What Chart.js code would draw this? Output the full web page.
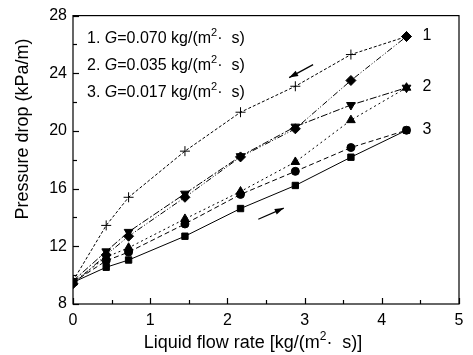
<!DOCTYPE html>
<html>
<head>
<meta charset="utf-8">
<script src="https://cdn.jsdelivr.net/npm/chart.js@4.4.1/dist/chart.umd.min.js"></script>
<style>
  html, body { margin: 0; padding: 0; background: #fff; }
  #wrap { width: 473px; height: 355px; }
</style>
</head>
<body>
<div id="wrap"><canvas id="chart" width="473" height="355"></canvas></div>
<script>
// liquid flow rate, kg/(m2 s)
const flowRate = [0, 0.43, 0.72, 1.45, 2.17, 2.88, 3.6, 4.32];

// pressure drop, kPa/m
const g070Down = [9.6, 13.45, 15.4, 18.6, 21.3, 23.1, 25.3, 26.55];
const g070Up = [9.4, 11.4, 12.7, 15.4, 18.2, 20.15, 23.5, 26.55];
const g035Down = [9.6, 11.65, 13.0, 15.65, 18.25, 20.3, 21.8, 23.0];
const g035Up = [9.5, 11.25, 11.9, 13.9, 15.8, 17.85, 20.75, 23.0];
const g017Down = [9.5, 11.0, 11.6, 13.55, 15.6, 17.2, 18.85, 20.05];
const g017Up = [9.5, 10.55, 11.05, 12.7, 14.62, 16.22, 18.18, 20.05];

const legendLines = [
  ["1. ", "G", "=0.070 kg/(m", "2", "·  s)"],
  ["2. ", "G", "=0.035 kg/(m", "2", "·  s)"],
  ["3. ", "G", "=0.017 kg/(m", "2", "·  s)"],
];
const curveLabels = ["1", "2", "3"];
const curveEnds = [26.55, 23.0, 20.05];

const FONT = "'Liberation Sans', Arial, sans-serif";

function pts(ys) {
  return flowRate.map((x, i) => ({ x: x, y: ys[i] }));
}

function series(ys, style, dash, extra) {
  return Object.assign({
    data: pts(ys),
    borderColor: "#000",
    backgroundColor: "#000",
    borderWidth: 1,
    borderDash: dash,
    pointStyle: style,
    pointRadius: 4.5,
    pointBorderWidth: 1,
    pointBorderColor: "#000",
    pointBackgroundColor: "#000",
    tension: 0,
  }, extra || {});
}

// frame, inward ticks, titles, arrows, legend text
const decorations = {
  id: "decorations",
  afterDraw(chart) {
    const ctx = chart.ctx;
    const xs = chart.scales.x;
    const ys = chart.scales.y;
    const a = chart.chartArea;
    ctx.save();
    ctx.strokeStyle = "#000";
    ctx.lineWidth = 1.2;
    ctx.strokeRect(a.left, a.top, a.right - a.left, a.bottom - a.top);

    for (let v = 0; v <= 5.001; v += 0.5) {
      const px = Math.round(xs.getPixelForValue(v)) + 0.5;
      const len = Math.abs(v - Math.round(v)) < 0.01 ? 6 : 4;
      ctx.beginPath();
      ctx.moveTo(px, a.bottom);
      ctx.lineTo(px, a.bottom - len);
      ctx.stroke();
    }
    for (let v = 8; v <= 28.001; v += 2) {
      const py = Math.round(ys.getPixelForValue(v)) + 0.5;
      const len = v % 4 === 0 ? 6 : 4;
      ctx.beginPath();
      ctx.moveTo(a.left, py);
      ctx.lineTo(a.left + len, py);
      ctx.stroke();
    }

    ctx.fillStyle = "#000";
    // x title
    ctx.textBaseline = "alphabetic";
    drawParts(ctx, ["Liquid flow rate [kg/(m", "2", "·  s)]"], 253, 348, [false, true, false]);

    // y title
    ctx.save();
    ctx.translate(28, 129);
    ctx.rotate(-Math.PI / 2);
    ctx.textAlign = "center";
    ctx.font = "18px " + FONT;
    ctx.fillText("Pressure drop (kPa/m)", 0, 0);
    ctx.restore();

    // legend text
    legendLines.forEach((parts, i) => {
      drawLegend(ctx, parts, 87, 43 + i * 27);
    });

    // curve numbers
    ctx.font = "16px " + FONT;
    ctx.textAlign = "left";
    ctx.textBaseline = "middle";
    curveLabels.forEach((t, i) => {
      ctx.fillText(t, xs.getPixelForValue(4.32) + 16, ys.getPixelForValue(curveEnds[i]) - 1);
    });

    // arrows
    arrow(ctx, xs.getPixelForValue(3.11), ys.getPixelForValue(24.6), xs.getPixelForValue(2.8), ys.getPixelForValue(23.7));
    arrow(ctx, xs.getPixelForValue(2.4), ys.getPixelForValue(13.88), xs.getPixelForValue(2.73), ys.getPixelForValue(14.65));
    ctx.restore();
  },
};

function drawParts(ctx, parts, x, y, sup) {
  let total = 0;
  const widths = parts.map((p, i) => {
    ctx.font = (sup[i] ? "12px " : "18px ") + FONT;
    const w = ctx.measureText(p).width;
    total += w;
    return w;
  });
  let cx = x - total / 2;
  ctx.textAlign = "left";
  parts.forEach((p, i) => {
    ctx.font = (sup[i] ? "12px " : "18px ") + FONT;
    ctx.fillText(p, cx, sup[i] ? y - 8 : y);
    cx += widths[i];
  });
}

function drawLegend(ctx, parts, x, y) {
  const fonts = ["16px ", "italic 16px ", "16px ", "11px ", "16px "];
  let cx = x;
  ctx.textAlign = "left";
  ctx.textBaseline = "alphabetic";
  parts.forEach((p, i) => {
    ctx.font = fonts[i] + FONT;
    ctx.fillText(p, cx, i === 3 ? y - 7 : y);
    cx += ctx.measureText(p).width;
  });
}

function arrow(ctx, x1, y1, x2, y2) {
  ctx.lineWidth = 1.2;
  ctx.beginPath();
  ctx.moveTo(x1, y1);
  ctx.lineTo(x2, y2);
  ctx.stroke();
  const ang = Math.atan2(y2 - y1, x2 - x1);
  const L = 9, W = 3;
  ctx.beginPath();
  ctx.moveTo(x2, y2);
  ctx.lineTo(x2 - L * Math.cos(ang) + W * Math.sin(ang), y2 - L * Math.sin(ang) - W * Math.cos(ang));
  ctx.lineTo(x2 - L * Math.cos(ang) - W * Math.sin(ang), y2 - L * Math.sin(ang) + W * Math.cos(ang));
  ctx.closePath();
  ctx.fill();
}

new Chart(document.getElementById("chart"), {
  type: "scatter",
  data: {
    datasets: [
      series(g017Up, "rect", []),
      series(g017Down, "circle", [5, 3], { pointRadius: 4 }),
      series(g035Up, "triangle", [2, 3], { pointRadius: 5 }),
      series(g035Down, "triangle", [7, 2, 2, 2], { pointRadius: 5, pointRotation: 180 }),
      series(g070Up, "rectRot", [6, 2, 1, 2, 1, 2], { pointRadius: 5 }),
      series(g070Down, "cross", [3, 2], { pointRadius: 5, pointBackgroundColor: "transparent" }),
    ],
  },
  options: {
    responsive: false,
    animation: false,
    devicePixelRatio: 1,
    showLine: true,
    layout: { padding: { top: 15, right: 14, left: 0, bottom: 0 } },
    plugins: {
      legend: { display: false },
      tooltip: { enabled: false },
    },
    scales: {
      x: {
        type: "linear",
        min: 0,
        max: 5,
        ticks: { stepSize: 1, color: "#000", font: { size: 16, family: FONT }, padding: 7, maxRotation: 0 },
        grid: { display: false, drawTicks: false },
        border: { display: false },
        afterFit: (s) => { s.height = 51; },
      },
      y: {
        type: "linear",
        min: 8,
        max: 28,
        ticks: { stepSize: 4, color: "#000", font: { size: 16, family: FONT }, padding: 6 },
        grid: { display: false, drawTicks: false },
        border: { display: false },
        afterFit: (s) => { s.width = 73; },
      },
    },
  },
  plugins: [decorations],
});
</script>
</body>
</html>
